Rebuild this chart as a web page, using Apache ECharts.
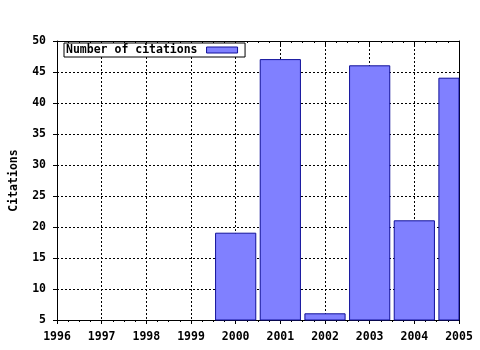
<!DOCTYPE html>
<html><head><meta charset="utf-8">
<script src="https://cdn.jsdelivr.net/npm/echarts@6/dist/echarts.min.js"></script>
<style>html,body{margin:0;padding:0;background:#fff}#c{width:480px;height:350px}</style>
</head><body><div id="c"></div>
<script>
var years = [2000, 2001, 2002, 2003, 2004, 2005];
var citations = [19, 47, 6, 46, 21, 44];
var xMin = 1996, xMax = 2005;
var yMin = 5, yMax = 50, yStep = 5;
var seriesName = 'Number of citations';
var yTitle = 'Citations';

var font = 'DejaVu Sans Mono';
var barFill = '#8080ff', barEdge = '#10109a';
var lab = {color: '#000', fontFamily: font, fontWeight: 'bold', fontSize: 11.5};
var grid = {show: true, lineStyle: {color: '#000', type: [2, 2], width: 1}};
var chart = echarts.init(document.getElementById('c'));
chart.setOption({
  animation: false,
  backgroundColor: '#fff',
  grid: {left: 57, right: 21, top: 41, bottom: 30, containLabel: false, outerBoundsMode: 'none'},
  legend: {
    left: 64, top: 43, orient: 'horizontal', align: 'right',
    itemWidth: 31, itemHeight: 6, icon: 'rect',
    padding: [1, 7, 1, 2], borderColor: '#000', borderWidth: 1,
    backgroundColor: '#fff',
    textStyle: Object.assign({}, lab, {padding: [0, 4, 0, 0]}),
    data: [{name: seriesName, itemStyle: {color: barFill, borderColor: barEdge, borderWidth: 1}}]
  },
  xAxis: [{
    type: 'value', min: xMin, max: xMax, interval: 1,
    axisLine: {show: true, onZero: false, lineStyle: {color: '#000'}},
    axisTick: {show: true, length: 4, lineStyle: {color: '#000'}},
    minorTick: {show: true, splitNumber: 4, length: 2, lineStyle: {color: '#000'}},
    axisLabel: Object.assign({}, lab, {margin: 11, formatter: function (v) { return String(v); }}),
    splitLine: grid
  }, {
    type: 'value', position: 'top', min: xMin, max: xMax, interval: 1,
    axisLine: {show: true, onZero: false, lineStyle: {color: '#000'}},
    axisTick: {show: true, inside: true, length: 4, lineStyle: {color: '#000'}},
    minorTick: {show: true, splitNumber: 4, length: 2, lineStyle: {color: '#000'}},
    axisLabel: {show: false}, splitLine: {show: false}
  }],
  yAxis: [{
    type: 'value', min: yMin, max: yMax, interval: yStep,
    name: yTitle, nameLocation: 'middle', nameGap: 37, nameRotate: 90,
    nameTextStyle: lab,
    axisLine: {show: true, onZero: false, lineStyle: {color: '#000'}},
    axisTick: {show: true, length: 4, lineStyle: {color: '#000'}},
    axisLabel: Object.assign({}, lab, {margin: 11}),
    splitLine: grid
  }, {
    type: 'value', position: 'right', min: yMin, max: yMax, interval: yStep,
    axisLine: {show: true, onZero: false, lineStyle: {color: '#000'}},
    axisTick: {show: false}, axisLabel: {show: false}, splitLine: {show: false}
  }],
  series: [{
    name: seriesName, type: 'custom',
    itemStyle: {color: barFill, borderColor: barEdge, borderWidth: 1},
    encode: {x: 0, y: 1},
    data: years.map(function (y, i) { return [y, citations[i]]; }),
    renderItem: function (params, api) {
      var top = api.coord([api.value(0), api.value(1)]);
      var base = api.coord([api.value(0), yMin]);
      var w = api.size([1, 0])[0] * 0.9;
      var rect = echarts.graphic.clipRectByRect(
        {x: top[0] - w / 2, y: top[1], width: w, height: base[1] - top[1]},
        {x: params.coordSys.x, y: params.coordSys.y, width: params.coordSys.width, height: params.coordSys.height}
      );
      if (!rect) return null;
      return {
        type: 'rect', shape: rect,
        style: {fill: barFill, stroke: barEdge, lineWidth: 1}
      };
    }
  }]
});
</script></body></html>
